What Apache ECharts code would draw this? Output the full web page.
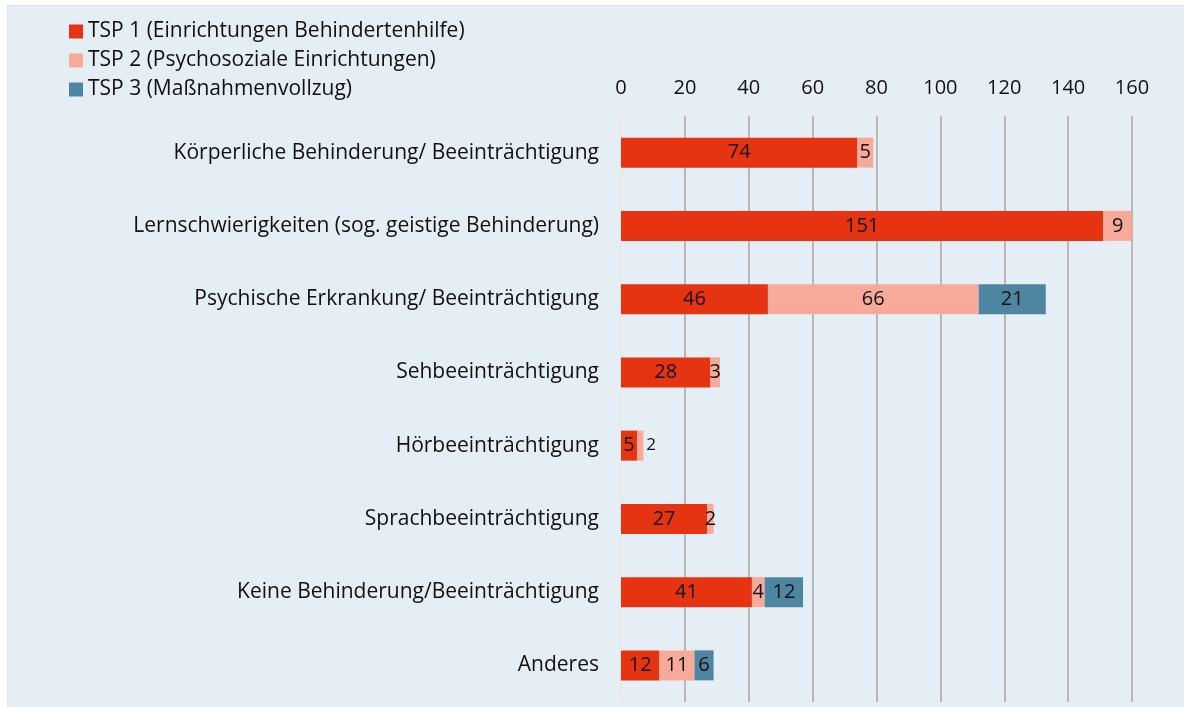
<!DOCTYPE html>
<html>
<head>
<meta charset="utf-8">
<script src="https://cdn.jsdelivr.net/npm/echarts@6/dist/echarts.min.js"></script>
<style>
  html, body { margin: 0; padding: 0; background: #ffffff; }
  #main {
    position: absolute; left: 7px; top: 5px;
    width: 1177px; height: 702px;
    background: #e5eef4;
    border-left: 1px solid #e3e3e3;
    border-top: 1px solid #e3e3e3;
  }
</style>
</head>
<body>
<div id="main"></div>
<script>
// Kategorien (von oben nach unten)
const categories = [
  'Körperliche Behinderung/ Beeinträchtigung',
  'Lernschwierigkeiten (sog. geistige Behinderung)',
  'Psychische Erkrankung/ Beeinträchtigung',
  'Sehbeeinträchtigung',
  'Hörbeeinträchtigung',
  'Sprachbeeinträchtigung',
  'Keine Behinderung/Beeinträchtigung',
  'Anderes'
]
const seriesNames = [
  'TSP 1 (Einrichtungen Behindertenhilfe)',
  'TSP 2 (Psychosoziale Einrichtungen)',
  'TSP 3 (Maßnahmenvollzug)'
]
const tsp1 = [74, 151, 46, 28, 5, 27, 41, 12]
const tsp2 = [5, 9, 66, 3, 2, 2, 4, 11]
const tsp3 = [null, null, 21, null, null, null, 12, 6]
const xTicks = [0, 20, 40, 60, 80, 100, 120, 140, 160]

const colors = ['#e63312', '#f8aa9a', '#4e86a1']
const FONT = 'Open Sans'

const chart = echarts.init(document.getElementById('main'))

function makeSeries (name, values, color, idx) {
  return {
    name: name,
    type: 'bar',
    stack: 'total',
    barWidth: 30,
    itemStyle: { color: color },
    label: {
      show: true,
      position: 'inside',
      color: '#111',
      fontFamily: FONT,
      fontSize: 20
    },
    data: values.map(function (v, i) {
      // Hörbeeinträchtigung: kleiner TSP-2-Wert steht rechts neben dem Balken
      if (idx === 1 && i === 4) {
        return { value: v, label: { position: 'right', distance: 3, fontSize: 17 } }
      }
      return v
    })
  }
}

chart.setOption({
  animation: false,
  textStyle: { fontFamily: FONT },
  legend: {
    orient: 'vertical',
    left: 56,
    top: 10,
    itemWidth: 14,
    itemHeight: 14,
    itemGap: 8,
    icon: 'rect',
    textStyle: { fontFamily: FONT, fontSize: 21, lineHeight: 20, color: '#111' },
    data: seriesNames
  },
  grid: {
    left: 613,
    width: 511,
    top: 110,
    bottom: 6,
    containLabel: false
  },
  xAxis: {
    type: 'value',
    position: 'top',
    min: xTicks[0],
    max: xTicks[xTicks.length - 1],
    interval: 20,
    axisLine: { show: false },
    axisTick: { show: false },
    axisLabel: { fontFamily: FONT, fontSize: 20, color: '#111', margin: 18 },
    splitLine: { show: true, lineStyle: { color: '#b8b8b8', width: 2 } }
  },
  yAxis: {
    type: 'category',
    inverse: true,
    data: categories,
    axisLine: { show: true, lineStyle: { color: '#ebe7e7', width: 2 } },
    axisTick: { show: false },
    axisLabel: { fontFamily: FONT, fontSize: 21, color: '#111', margin: 22 }
  },
  series: [
    makeSeries(seriesNames[0], tsp1, colors[0], 0),
    makeSeries(seriesNames[1], tsp2, colors[1], 1),
    makeSeries(seriesNames[2], tsp3, colors[2], 2)
  ]
})
</script>
</body>
</html>
